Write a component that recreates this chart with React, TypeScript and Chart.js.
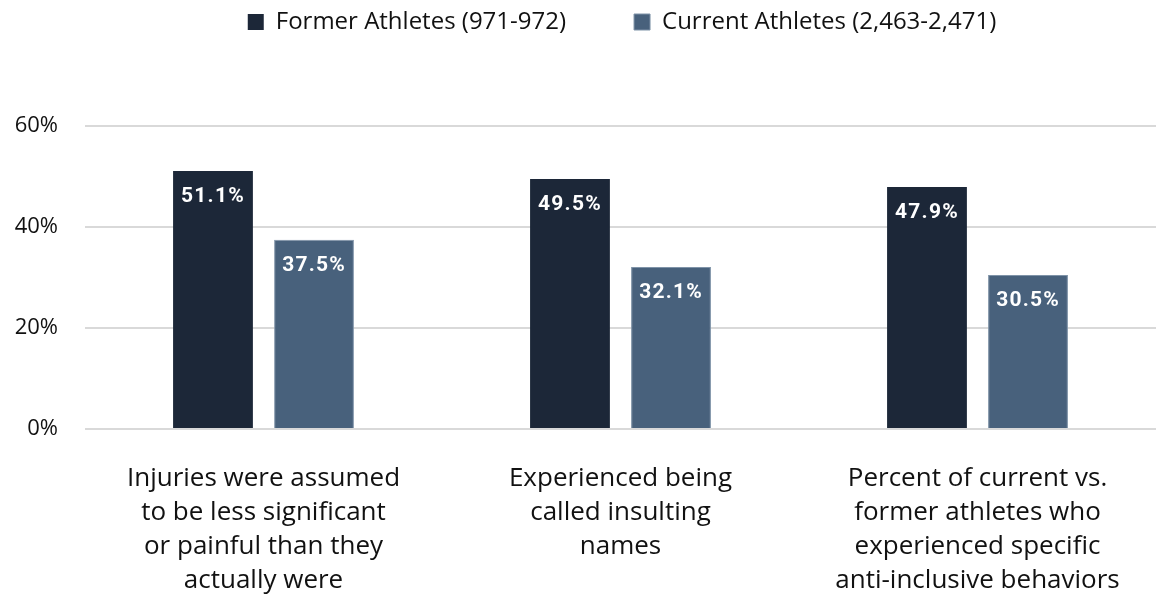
import React, { useEffect, useRef } from "react";
import { Chart, registerables } from "chart.js";

Chart.register(...registerables);

const categories: string[][] = [
  ["Injuries were assumed", "to be less significant", "or painful than they", "actually were"],
  ["Experienced being", "called insulting", "names"],
  ["Percent of current vs.", "former athletes who", "experienced specific", "anti-inclusive behaviors"],
];
const formerLabel = "Former Athletes (971-972)";
const currentLabel = "Current Athletes (2,463-2,471)";
const formerValues = [51.1, 49.5, 47.9];
const currentValues = [37.5, 32.1, 30.5];
const yTicks = [0, 20, 40, 60];

const FONT = "'Open Sans', Roboto, sans-serif";
const BOLD_FONT = "Roboto, 'Noto Sans', sans-serif";

const legendPlace = {
  id: "legendPlace",
  beforeInit(chart: any) {
    const orig = chart.legend.fit;
    chart.legend.fit = function fit() {
      orig.call(this);
      this.height = 126;
    };
  },
  afterLayout(chart: any) {
    const lg = chart.legend;
    lg.top = -58;
    lg.left += 44;
    lg.right += 44;
  },
};

const valueLabels = {
  id: "valueLabels",
  afterDatasetsDraw(chart: any) {
    const ctx = chart.ctx;
    ctx.save();
    ctx.fillStyle = "#ffffff";
    ctx.font = `bold 21px ${BOLD_FONT}`;
    (ctx as any).letterSpacing = "1.2px";
    ctx.textAlign = "center";
    ctx.textBaseline = "middle";
    chart.data.datasets.forEach((ds: any, i: number) => {
      const meta = chart.getDatasetMeta(i);
      meta.data.forEach((bar: any, j: number) => {
        ctx.fillText(`${ds.data[j].toFixed(1)}%`, bar.x, bar.y + 26);
      });
    });
    ctx.restore();
  },
};

export default function App() {
  const ref = useRef<HTMLCanvasElement>(null);
  useEffect(() => {
    document.body.style.margin = "0";
    const chart = new Chart(ref.current!, {
      type: "bar",
      data: {
        labels: categories,
        datasets: [
          { label: formerLabel, data: formerValues, backgroundColor: "#1c2738" },
          { label: currentLabel, data: currentValues, backgroundColor: "#48617c", borderColor: "#7f93a8", borderWidth: 1 },
        ],
      },
      options: {
        animation: false,
        responsive: false,
        categoryPercentage: 0.566,
        barPercentage: 0.79,
        layout: { padding: { left: 0, right: 0, top: 0, bottom: 0 } },
        plugins: {
          legend: {
            position: "top",
            labels: {
              boxWidth: 16,
              boxHeight: 16,
              padding: 68,
              color: "#111111",
              font: { family: FONT, size: 24 },
            },
          },
          tooltip: { enabled: false },
        },
        scales: {
          x: {
            afterFit: (axis: any) => {
              axis.height = 172;
            },
            grid: { display: false, drawTicks: false },
            border: { display: false },
            ticks: {
              color: "#111111",
              font: { family: FONT, size: 26, lineHeight: 1.3 },
              padding: 33,
              maxRotation: 0,
              autoSkip: false,
            },
          },
          y: {
            min: 0,
            max: 60,
            afterFit: (axis: any) => {
              axis.width = 85;
            },
            afterBuildTicks: (axis: any) => {
              axis.ticks = yTicks.map((v) => ({ value: v }));
            },
            grid: { color: "#d9d9d9", lineWidth: 2, drawTicks: false },
            border: { display: false },
            ticks: {
              color: "#111111",
              font: { family: FONT, size: 22 },
              padding: 27,
              callback: (v: any) => `${v}%`,
            },
          },
        },
      },
      plugins: [legendPlace, valueLabels],
    });
    return () => chart.destroy();
  }, []);
  return <canvas ref={ref} width={1156} height={601} />;
}
